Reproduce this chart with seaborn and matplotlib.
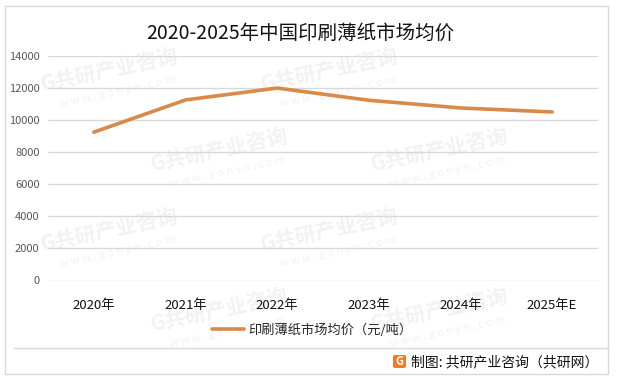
import matplotlib
matplotlib.use("Agg")
import matplotlib.pyplot as plt
import seaborn as sns
import pandas as pd
from matplotlib.patches import Rectangle, FancyBboxPatch
from matplotlib.lines import Line2D

# data
years = ["2020年", "2021年", "2022年", "2023年", "2024年", "2025年E"]
price = [9250, 11260, 12000, 11240, 10760, 10510]
yticks = [0, 2000, 4000, 6000, 8000, 10000, 12000, 14000]
series_name = "印刷薄纸市场均价（元/吨）"
title = "2020-2025年中国印刷薄纸市场均价"
source = "制图: 共研产业咨询（共研网）"

sns.set_theme(style="white")
plt.rcParams["font.family"] = ["Noto Sans CJK SC", "DejaVu Sans"]

df = pd.DataFrame({"year": years, "price": price})
line_color = "#D98A48"

W, H = 617, 380
fig = plt.figure(figsize=(W / 100, H / 100), dpi=100)
fig.patch.set_facecolor("white")

# faint watermarks, kept inside the frame and behind everything
for row, yy in enumerate(range(70, 340, 80)):
    off = (row % 2) * 110
    for xx in range(110 + off, 530, 220):
        fig.text(xx / W, 1 - yy / H, "G共研产业咨询", fontsize=15, fontweight="bold",
                 color="#F2F2F2", rotation=12, ha="center", va="center", zorder=-5)
        fig.text((xx + 8) / W, 1 - (yy + 22) / H, "w w w . g o n y n . c o m", fontsize=8,
                 color="#F2F2F2", rotation=12, ha="center", va="center", zorder=-5)

ax = fig.add_axes([48 / W, 1 - 280.5 / H, 550 / W, 224.5 / H])
ax.set_facecolor("none")
sns.lineplot(data=df, x="year", y="price", ax=ax, color=line_color, linewidth=2.6,
             sort=False, label=series_name, legend=False)

ax.set_xlim(-0.5, len(years) - 0.5)
ax.set_ylim(0, 14000)
ax.set_yticks(yticks)
ax.set_yticklabels([str(v) for v in yticks], fontsize=8, color="#595959")
ax.tick_params(axis="y", length=0, pad=6)
ax.tick_params(axis="x", length=0, pad=13, labelsize=9.5, labelcolor="#111111")
ax.grid(axis="y", color="#D9D9D9", linewidth=1)
ax.grid(axis="x", visible=False)
for s in ax.spines.values():
    s.set_visible(False)
ax.set_xlabel("")
ax.set_ylabel("")

fig.text(0.487, 1 - 33 / H, title, fontsize=14, ha="center", va="center", color="#111111")

# legend
handle = Line2D([0], [0], color=line_color, linewidth=2.6)
fig.legend([handle], [series_name], loc="center", bbox_to_anchor=(312 / W, 1 - 330 / H),
           frameon=False, fontsize=9.5, handlelength=2.4, handletextpad=0.3)

# outer border and separator
fig.add_artist(Rectangle((4.5 / W, 1 - 373.5 / H), 603 / W, 367.5 / H, transform=fig.transFigure,
                         fill=False, edgecolor="#D9D9D9", linewidth=1))
fig.add_artist(Line2D([14 / W, 607.5 / W], [1 - 348 / H, 1 - 348 / H], transform=fig.transFigure,
                      color="#D9D9D9", linewidth=1))

# source with logo
fig.add_artist(FancyBboxPatch((393 / W, 1 - 368 / H), 13 / W, 13 / H, transform=fig.transFigure,
                              boxstyle="round,pad=0,rounding_size=0.004",
                              facecolor="#F07A2A", edgecolor="none"))
fig.text(399.5 / W, 1 - 361.5 / H, "G", fontsize=8, fontweight="bold", color="white",
         ha="center", va="center")
fig.text(411 / W, 1 - 362 / H, source, fontsize=10, ha="left", va="center", color="#111111")

fig.savefig("out.png", dpi=100)
